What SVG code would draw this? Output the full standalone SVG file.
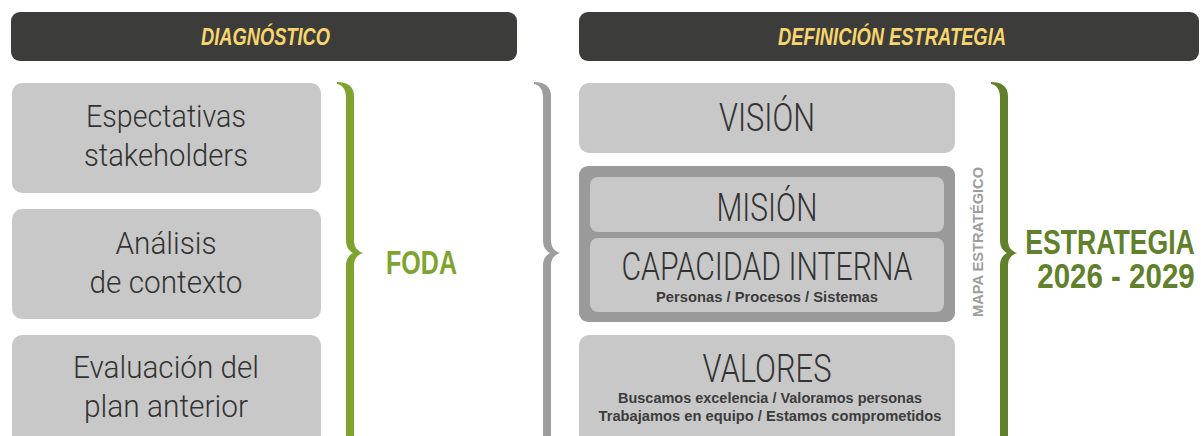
<svg xmlns="http://www.w3.org/2000/svg" width="1201" height="436" viewBox="0 0 1201 436">
<style>
.hdr{fill:#3c3c3a}
.hdrt{font-family:"Liberation Sans",Arial,sans-serif;font-weight:bold;font-style:italic;font-size:23px;fill:#f8d66e;text-anchor:middle}
.box{fill:#c8c8c8}
.outer{fill:#9a9a9a}
.t{font-family:Roboto,"Liberation Sans",sans-serif;font-weight:300;fill:#333333;text-anchor:middle}
.l{font-size:31px}
.r{font-size:38px}
.s{font-family:"Liberation Sans",Arial,sans-serif;font-weight:bold;font-size:15px;fill:#3c3c3c;text-anchor:middle}
.big{font-family:"Liberation Sans",Arial,sans-serif;font-weight:bold;text-anchor:middle}
.est{font-size:36px;fill:#61802b}
</style>
<defs>
<path id="brace" d="M337,82 C347,82 354,86 354,96 L354,240 C354,247 357,251 363,253 C357,255 354,259 354,266 L354,440 L346,440 L346,266 C346,259 349,255 353,253 C349,251 346,247 346,240 L346,98 C346,90 343,85 337,84 Z"/>
</defs>

<g id="header-diagnostico">
<rect class="hdr" x="11" y="12" width="506" height="49" rx="9"/>
<text class="hdrt" x="265.5" y="45" textLength="129" lengthAdjust="spacingAndGlyphs">DIAGNÓSTICO</text>
</g>
<g id="header-definicion">
<rect class="hdr" x="579" y="12" width="620" height="49" rx="9"/>
<text class="hdrt" x="892" y="45" textLength="228" lengthAdjust="spacingAndGlyphs">DEFINICIÓN ESTRATEGIA</text>
</g>

<g id="espectativas">
<rect class="box" x="12" y="83" width="309" height="110" rx="10"/>
<text class="t l" x="166" y="127" textLength="160" lengthAdjust="spacingAndGlyphs">Espectativas</text>
<text class="t l" x="166" y="166" textLength="164" lengthAdjust="spacingAndGlyphs">stakeholders</text>
</g>
<g id="analisis">
<rect class="box" x="12" y="209" width="309" height="110" rx="10"/>
<text class="t l" x="166" y="254" textLength="101" lengthAdjust="spacingAndGlyphs">Análisis</text>
<text class="t l" x="166" y="293" textLength="153" lengthAdjust="spacingAndGlyphs">de contexto</text>
</g>
<g id="evaluacion">
<rect class="box" x="12" y="335" width="309" height="115" rx="10"/>
<text class="t l" x="166" y="378" textLength="186" lengthAdjust="spacingAndGlyphs">Evaluación del</text>
<text class="t l" x="166" y="417" textLength="164" lengthAdjust="spacingAndGlyphs">plan anterior</text>
</g>

<g id="connectors">
<use href="#brace" fill="#7ea42f"/>
<use href="#brace" fill="#9d9d9d" transform="translate(197,0)"/>
<use href="#brace" fill="#61802b" transform="translate(654,0)"/>
</g>

<g id="foda">
<text class="big" x="421.5" y="274" font-size="34" fill="#7ea42f" textLength="71" lengthAdjust="spacingAndGlyphs">FODA</text>
</g>

<g id="vision">
<rect class="box" x="579" y="83" width="376" height="70" rx="10"/>
<text class="t r" x="767" y="131" textLength="96" lengthAdjust="spacingAndGlyphs">VISIÓN</text>
</g>

<g id="mapa-estrategico">
<rect class="outer" x="579" y="166" width="376" height="156" rx="9"/>
<g id="mision">
<rect class="box" x="590" y="177" width="354" height="55" rx="8"/>
<text class="t r" x="767" y="221" textLength="101" lengthAdjust="spacingAndGlyphs">MISIÓN</text>
</g>
<g id="capacidad">
<rect class="box" x="590" y="238" width="354" height="74" rx="8"/>
<text class="t r" x="767" y="280" textLength="291" lengthAdjust="spacingAndGlyphs">CAPACIDAD INTERNA</text>
<text class="s" x="767" y="302" textLength="222" lengthAdjust="spacingAndGlyphs">Personas / Procesos / Sistemas</text>
</g>
<text class="big" transform="translate(983,242) rotate(-90)" font-size="15" fill="#9d9d9d" textLength="150" lengthAdjust="spacingAndGlyphs">MAPA ESTRATÉGICO</text>
</g>

<g id="valores">
<rect class="box" x="579" y="335" width="376" height="115" rx="10"/>
<text class="t r" x="767" y="382" textLength="129" lengthAdjust="spacingAndGlyphs">VALORES</text>
<text class="s" x="770" y="403" textLength="304" lengthAdjust="spacingAndGlyphs">Buscamos excelencia / Valoramos personas</text>
<text class="s" x="770" y="421" textLength="343" lengthAdjust="spacingAndGlyphs">Trabajamos en equipo / Estamos comprometidos</text>
</g>

<g id="estrategia">
<text class="big est" transform="translate(1110,254) scale(0.74,1)">ESTRATEGIA</text>
<text class="big est" transform="translate(1116,288) scale(0.82,1)">2026 - 2029</text>
</g>
</svg>
